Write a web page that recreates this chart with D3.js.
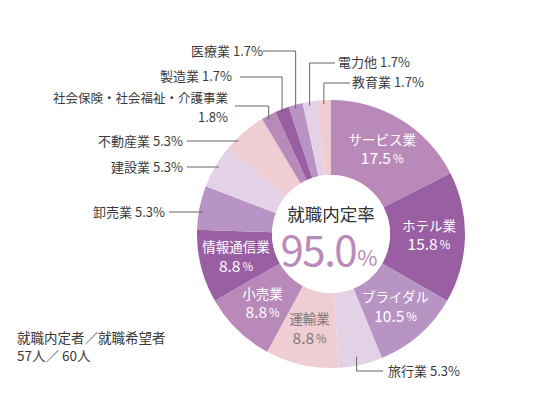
<!DOCTYPE html>
<html><head><meta charset="utf-8">
<script src="https://cdn.jsdelivr.net/npm/d3@7"></script>
<style>
html,body{margin:0;padding:0;background:#fff;}
svg{display:block;font-family:"Noto Sans CJK JP","Noto Sans",sans-serif;}
</style></head><body>
<svg id="c" width="548" height="410"></svg>
<script>
const categories = ["サービス業","ホテル業","ブライダル","旅行業","運輸業","小売業","情報通信業","卸売業","建設業","不動産業","社会保険・社会福祉・介護事業","製造業","医療業","電力他","教育業"];
const values = [17.5,15.8,10.5,5.3,8.8,8.8,8.8,5.3,5.3,5.3,1.8,1.7,1.7,1.7,1.7];
const palette = ["#b98ab9","#9a5ea3","#b894c4","#e3d2e6","#efcdd3"];
const centerTitle = "就職内定率";
const centerValue = "95.0";
const noteLines = ["就職内定者／就職希望者","57人／ 60人"];

const svg = d3.select("#c");
const cx = 331, cy = 234, R = 134, r0 = 59;
const g = svg.append("g").attr("transform",`translate(${cx},${cy})`);
const data = categories.map((c,i)=>({name:c,value:values[i],idx:i}));
const pie = d3.pie().sort(null).value(d=>d.value);
const arcs = pie(data);
const arc = d3.arc().innerRadius(r0).outerRadius(R);
const color = d3.scaleOrdinal().domain(d3.range(categories.length)).range(palette);

g.selectAll("path.s").data(arcs).join("path").attr("class","s")
  .attr("d",arc).attr("fill",d=>color(d.data.idx));

// inner labels for big slices
const inside = new Set([0,1,2,4,5,6]);
const labArc = d3.arc().innerRadius(98).outerRadius(98);
arcs.filter(d=>inside.has(d.data.idx)).forEach(d=>{
  const [x,y] = labArc.centroid(d);
  const col = d.data.idx===4 ? "#7d7778" : "#fff";
  g.append("text").attr("x",x).attr("y",y-9).attr("text-anchor","middle")
    .attr("dominant-baseline","middle").attr("font-size",13.5).attr("fill",col).text(d.data.name);
  const t2 = g.append("text").attr("x",x).attr("y",y+10).attr("text-anchor","middle")
    .attr("dominant-baseline","middle").attr("fill",col);
  t2.append("tspan").attr("font-size",15.5).text(d3.format(".1f")(d.data.value));
  t2.append("tspan").attr("font-size",11.5).attr("dx",2).text("%");
});

// outside labels
const lineCol = "#666", txtCol = "#3a3a3a";
const fs = 13;
function pt(d){ const a=(d.startAngle+d.endAngle)/2; return [Math.sin(a)*R, -Math.cos(a)*R]; }
function circX(y){ return -Math.sqrt(R*R-y*y); }
const topSpec = {10:{ly:106, tx:228, ty:[100,118], x0:235, left:true},
                 11:{ly:77, tx:234, ty:[77], x0:240, left:true},
                 12:{ly:51, tx:265, ty:[52], x0:263, left:true},
                 13:{ly:63, tx:336, ty:[63], x0:335, left:false},
                 14:{ly:83, tx:350, ty:[83], x0:350, left:false}};
arcs.forEach(d=>{
  const i=d.data.idx;
  const label = d.data.name+" "+d3.format(".1f")(d.data.value)+"%";
  if(topSpec[i]){
    const s=topSpec[i]; const [px,py]=pt(d);
    const X=px+cx, Y=py+cy+4;
    svg.append("path").attr("d",`M${X},${Y}V${s.ly}H${s.x0}`).attr("fill","none")
      .attr("stroke",lineCol).attr("stroke-width",1);
    if(s.ty.length===2){
      svg.append("text").attr("x",s.tx).attr("y",s.ty[0]).attr("text-anchor","end")
        .attr("dominant-baseline","middle").attr("font-size",12.5).attr("fill",txtCol).text(d.data.name);
      svg.append("text").attr("x",s.tx).attr("y",s.ty[1]).attr("text-anchor","end")
        .attr("dominant-baseline","middle").attr("font-size",fs).attr("fill",txtCol).text(d3.format(".1f")(d.data.value)+"%");
    } else {
      svg.append("text").attr("x",s.left? s.tx-2 : s.tx+2).attr("y",s.ty[0]).attr("text-anchor",s.left?"end":"start")
        .attr("dominant-baseline","middle").attr("font-size",fs).attr("fill",txtCol).text(label);
    }
  }
});
const leftSpec = {9:{y:141, tx:183}, 8:{y:167, tx:183}, 7:{y:212, tx:165}};
arcs.forEach(d=>{
  const s=leftSpec[d.data.idx]; if(!s) return;
  const xe = cx + circX(s.y-cy) + 4;
  svg.append("line").attr("x1",s.tx+4).attr("x2",xe).attr("y1",s.y).attr("y2",s.y)
    .attr("stroke",lineCol).attr("stroke-width",1);
  svg.append("text").attr("x",s.tx).attr("y",s.y+1).attr("text-anchor","end").attr("dominant-baseline","middle")
    .attr("font-size",fs).attr("fill",txtCol).text(d.data.name+" "+d3.format(".1f")(d.data.value)+"%");
});
{
  const d = arcs[3]; const [px,py]=pt(d);
  const X=cx+px-4, Y=cy+py-8;
  svg.append("path").attr("d",`M${X},${Y}V371H383`).attr("fill","none").attr("stroke",lineCol).attr("stroke-width",1);
  svg.append("text").attr("x",388).attr("y",372).attr("dominant-baseline","middle").attr("font-size",fs)
    .attr("fill",txtCol).text(d.data.name+" "+d3.format(".1f")(d.data.value)+"%");
}

// center
g.append("circle").attr("r",r0).attr("fill","#fff");
g.append("text").attr("y",-18).attr("text-anchor","middle").attr("dominant-baseline","middle")
  .attr("font-size",17.5).attr("fill","#333").text(centerTitle);
const cv = g.append("text").attr("x",-2).attr("y",32).attr("text-anchor","middle").attr("fill","#b98aba");
cv.append("tspan").attr("font-size",42).attr("letter-spacing",-1.5).text(centerValue);
cv.append("tspan").attr("font-size",22).attr("dx",1).text("%");

noteLines.forEach((t,i)=>{
  svg.append("text").attr("x",17).attr("y",339+i*18).attr("dominant-baseline","middle")
    .attr("font-size",13.5).attr("fill",txtCol).text(t);
});
</script></body></html>
